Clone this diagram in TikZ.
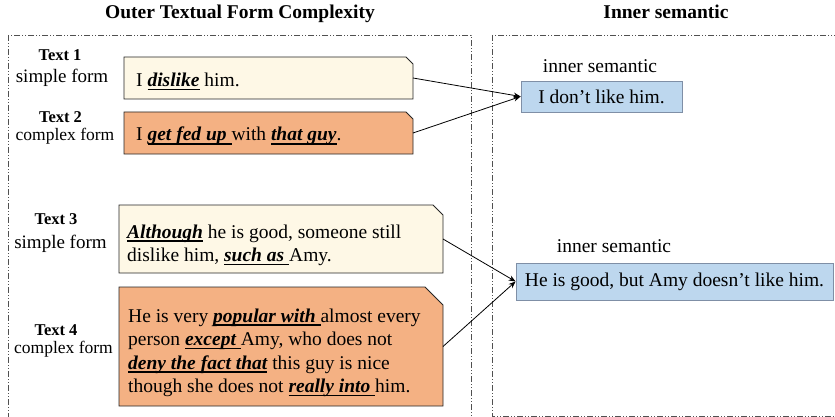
\documentclass[tikz,border=0pt]{standalone}
\usepackage{fontspec}
\IfFontExistsTF{LiberationSerif-BoldItalic.ttf}{%
\setmainfont{LiberationSerif}[
  Extension=.ttf,
  UprightFont=*-Regular,
  BoldFont=*-Bold,
  ItalicFont=*-Italic,
  BoldItalicFont=*-BoldItalic]}{%
\setmainfont{Liberation Serif}}
\usetikzlibrary{arrows.meta}
\definecolor{cream}{HTML}{FEF8E6}
\definecolor{peach}{HTML}{F4B183}
\definecolor{sky}{HTML}{BDD7EE}
\definecolor{skyline}{HTML}{7F8FA6}
\definecolor{framec}{HTML}{505050}
\newcommand\ulb[1]{\setbox0\hbox{\bfseries\itshape #1}\rlap{\rule[-3.5pt]{\wd0}{1.5pt}}\box0{}}
\newcommand\chamferbox[3]{%
  \filldraw[fill=#3, draw=black!85, line width=0.9pt]
    (#1.north west) -- ([xshift=-#2]#1.north east) -- ([yshift=-#2]#1.north east)
    -- (#1.south east) -- (#1.south west) -- cycle;}
\begin{document}
\begin{tikzpicture}[x=1pt,y=-1pt,
  frame/.style={draw=framec, line width=0.8pt, dash pattern=on 6pt off 2pt on 1pt off 2pt on 1pt off 2pt},
  holder/.style={inner sep=0pt, outer sep=0pt},
  body/.style={inner sep=0pt, font=\fontsize{19.5}{23.5}\selectfont},
  ttl/.style={inner sep=0pt, font=\fontsize{19.5}{23.5}\selectfont\bfseries},
  tnum/.style={inner sep=0pt, font=\fontsize{16.5}{20}\selectfont\bfseries},
  simp/.style={inner sep=0pt, font=\fontsize{19}{22}\selectfont},
  cplx/.style={inner sep=0pt, font=\fontsize{17.5}{20}\selectfont},
  sem/.style={draw=skyline, fill=sky, line width=0.8pt, inner sep=0pt, font=\fontsize{19.5}{23.5}\selectfont},
  arr/.style={-{Stealth[length=7pt,width=5.5pt]}, line width=0.8pt, draw=black}
]
\useasboundingbox (0,0) rectangle (835,417);

% titles
\node[ttl, anchor=base] (title1) at (240,19) {Outer Textual Form Complexity};
\node[ttl, anchor=base] (title2) at (666,19) {Inner semantic};

% frames
\draw[frame] (8,35) rectangle (471,425);
\draw[frame] (492,35) rectangle (845,416);

% left labels
\node[tnum, anchor=base] (n1) at (60,61) {Text 1};
\node[simp, anchor=base] (f1) at (62,83) {simple form};
\node[tnum, anchor=base] (n2) at (60.5,123) {Text 2};
\node[cplx, anchor=base] (f2) at (65,141) {complex form};
\node[tnum, anchor=base] (n3) at (56,224) {Text 3};
\node[simp, anchor=base] (f3) at (60.5,248) {simple form};
\node[tnum, anchor=base] (n4) at (56,335) {Text 4};
\node[cplx, anchor=base] (f4) at (63.5,353) {complex form};

% text boxes
\node[holder, minimum width=289pt, minimum height=42pt] (b1) at (268.5,78) {};
\node[holder, minimum width=289pt, minimum height=42pt] (b2) at (268.5,133) {};
\node[holder, minimum width=324pt, minimum height=68pt] (b3) at (281,239) {};
\node[holder, minimum width=324pt, minimum height=119pt] (b4) at (281,346.5) {};
\chamferbox{b1}{7pt}{cream}
\chamferbox{b2}{7pt}{peach}
\chamferbox{b3}{10pt}{cream}
\chamferbox{b4}{18pt}{peach}

\node[body, anchor=base west] (t1) at (136,87) {I \ulb{dislike} him.};
\node[body, anchor=base west] (t2) at (136,141) {I \ulb{get fed up\ }with \ulb{that guy}.};
\node[body, anchor=base west] (t3) at (127,238) {\begin{tabular}[t]{@{}l@{}}
\ulb{Although} he is good, someone still\\
dislike him, \ulb{such as\ }Amy.\end{tabular}};
\node[body, anchor=base west] (t4) at (128,322) {\begin{tabular}[t]{@{}l@{}}
He is very \ulb{popular with\ }almost every\\
person \ulb{except\ }Amy, who does not\\
\ulb{deny the fact that} this guy is nice\\
though she does not \ulb{really into\ }him.\end{tabular}};

% inner semantic
\node[body, anchor=base] (l1) at (600,73) {inner semantic};
\node[sem, minimum width=161pt, minimum height=31pt] (s1) at (601.5,96.5) {I don’t like him.};
\node[body, anchor=base] (l2) at (614,252) {inner semantic};
\node[sem, minimum width=317pt, minimum height=37pt] (s2) at (674.5,281.5) {He is good, but Amy doesn’t like him.};

% arrows
\draw[arr] (b1.east) -- (s1.west);
\draw[arr] (b2.east) -- (s1.west);
\draw[arr] (b3.east) -- (s2.west);
\draw[arr] (b4.east) -- (s2.west);
\end{tikzpicture}
\end{document}
